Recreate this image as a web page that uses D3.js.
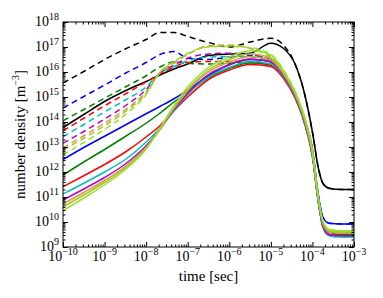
<!DOCTYPE html>
<html>
<head>
<meta charset="utf-8">
<script src="https://cdn.jsdelivr.net/npm/d3@7"></script>
<style>
  body { margin: 0; background: #fff; }
  svg { display: block; }
  .frame { fill: none; stroke: #000; stroke-width: 1; }
  .ln { fill: none; stroke-width: 1.5; }
  text { font-family: "Liberation Serif", "DejaVu Serif", serif; fill: #000; }
</style>
</head>
<body>
<script>
//time grid, as log10(seconds)
var logTime = [-10, -9.5, -9, -8.5, -8, -7.67, -7.33, -7, -6.5, -6, -5.5, -5, -4.7, -4.4, -4.2, -4, -3.85, -3.75, -3.6, -3.3, -3];

//series names and colours (one solid + one dashed curve each)
var seriesNames = ["k", "b", "g", "r", "c", "m", "tan", "olive", "lime"];
var seriesColors = ["#000000", "#0000ff", "#007f00", "#ff0000", "#00bfbf", "#bf00bf", "#c8a23c", "#b4bc2c", "#8ee628"];

//log10 of number density [m^-3]
var solidK = [13.78, 14.3, 14.82, 15.25, 15.62, 15.88, 16.12, 16.32, 16.66, 16.72, 16.75, 17.15, 16.95, 16.25, 15.2, 13.6, 12.1, 11.55, 11.35, 11.3, 11.3];
var solidB = [12.5, 12.98, 13.43, 13.88, 14.33, 14.62, 14.93, 15.28, 15.85, 16.3, 16.5, 16.42, 15.9, 15.0, 14.2, 12.9, 11.0, 10.2, 9.95, 9.92, 9.92];
var solidG = [11.88, 12.4, 12.9, 13.42, 13.95, 14.35, 14.8, 15.2, 15.78, 16.15, 16.36, 16.28, 15.8, 14.95, 14.05, 12.7, 10.8, 9.95, 9.6, 9.5, 9.5];
var solidR = [11.41, 11.85, 12.3, 12.8, 13.4, 13.85, 14.45, 15.0, 15.7, 16.08, 16.3, 16.22, 15.75, 14.9, 14.0, 12.6, 10.7, 9.85, 9.5, 9.45, 9.45];
var solidC = [11.12, 11.55, 12.0, 12.5, 13.2, 13.75, 14.45, 15.1, 15.8, 16.18, 16.42, 16.32, 15.8, 14.95, 14.05, 12.65, 10.7, 9.8, 9.45, 9.4, 9.4];
var solidM = [10.88, 11.32, 11.78, 12.32, 13.05, 13.7, 14.5, 15.15, 15.9, 16.28, 16.52, 16.4, 15.85, 15.0, 14.1, 12.7, 10.75, 9.85, 9.5, 9.45, 9.45];
var solidT = [10.72, 11.18, 11.66, 12.22, 12.98, 13.7, 14.55, 15.25, 16.0, 16.4, 16.62, 16.48, 15.92, 15.05, 14.15, 12.75, 10.8, 9.95, 9.6, 9.55, 9.55];
var solidO = [10.6, 11.08, 11.58, 12.16, 12.95, 13.72, 14.6, 15.3, 16.08, 16.5, 16.72, 16.56, 15.98, 15.1, 14.2, 12.8, 10.85, 10.0, 9.65, 9.6, 9.6];
var solidL = [10.45, 10.96, 11.48, 12.1, 12.92, 13.75, 14.65, 15.4, 16.18, 16.6, 16.85, 16.68, 16.05, 15.15, 14.25, 12.85, 10.9, 10.05, 9.7, 9.65, 9.65];

var dashK = [15.56, 16.02, 16.5, 16.92, 17.3, 17.58, 17.58, 17.42, 17.18, 17.0, 17.2, 17.35, 17.08, 16.25, 15.2, 13.6, 12.1, 11.55, 11.35, 11.3, 11.3];
var dashB = [14.56, 15.02, 15.48, 15.95, 16.38, 16.7, 16.82, 16.55, 16.5, 16.6, 16.65, 16.5, 15.95, 15.05, 14.2, 12.9, 11.0, 10.2, 9.95, 9.92, 9.92];
var dashG = [14.05, 14.5, 14.95, 15.4, 15.85, 16.2, 16.4, 16.35, 16.32, 16.35, 16.4, 16.3, 15.85, 14.95, 14.05, 12.7, 10.8, 9.95, 9.6, 9.5, 9.5];
var dashR = [13.65, 14.15, 14.65, 15.12, 15.6, 15.92, 16.2, 16.38, 16.42, 16.42, 16.42, 16.28, 15.8, 14.9, 14.0, 12.6, 10.7, 9.85, 9.5, 9.45, 9.45];
var dashC = [13.41, 13.9, 14.4, 14.88, 15.4, 15.95, 16.22, 16.45, 16.6, 16.62, 16.6, 16.38, 15.85, 14.95, 14.05, 12.65, 10.7, 9.8, 9.45, 9.4, 9.4];
var dashM = [13.15, 13.62, 14.12, 14.65, 15.3, 15.95, 16.28, 16.55, 16.72, 16.75, 16.7, 16.45, 15.9, 15.0, 14.1, 12.7, 10.75, 9.85, 9.5, 9.45, 9.45];
var dashT = [12.97, 13.45, 13.95, 14.5, 15.2, 15.97, 16.35, 16.7, 17.05, 17.08, 16.95, 16.55, 15.97, 15.05, 14.15, 12.75, 10.8, 9.95, 9.6, 9.55, 9.55];
var dashO = [12.88, 13.35, 13.85, 14.42, 15.15, 15.98, 16.38, 16.72, 17.02, 17.05, 16.95, 16.6, 16.02, 15.1, 14.2, 12.8, 10.85, 10.0, 9.65, 9.6, 9.6];
var dashL = [12.68, 13.18, 13.7, 14.3, 15.1, 16.0, 16.42, 16.75, 17.0, 17.02, 16.98, 16.7, 16.1, 15.15, 14.25, 12.85, 10.9, 10.05, 9.7, 9.65, 9.65];

var solids = [solidK, solidB, solidG, solidR, solidC, solidM, solidT, solidO, solidL];
var dashes = [dashK, dashB, dashG, dashR, dashC, dashM, dashT, dashO, dashL];

//tick exponents
var xExps = [-10, -9, -8, -7, -6, -5, -4, -3];
var yExps = [9, 10, 11, 12, 13, 14, 15, 16, 17, 18];

window.onload = setChart();

function setChart(){
    var width = 383,
        height = 298;
    var left = 63, right = 354, top = 22, bottom = 247;

    var svg = d3.select("body")
        .append("svg")
        .attr("width", width)
        .attr("height", height);

    var x = d3.scaleLog().domain([1e-10, 1e-3]).range([left, right]);
    var y = d3.scaleLog().domain([1e9, 1e18]).range([bottom, top]);

    //minor tick positions 2..9 in each decade
    function minors(exps){
        var out = [];
        for (var i = 0; i < exps.length - 1; i++){
            for (var k = 2; k < 10; k++) out.push(k * Math.pow(10, exps[i]));
        }
        return out;
    }
    var xMajor = xExps.map(function(e){ return Math.pow(10, e); });
    var yMajor = yExps.map(function(e){ return Math.pow(10, e); });

    svg.append("clipPath").attr("id", "clip")
        .append("rect").attr("x", left).attr("y", top)
        .attr("width", right - left).attr("height", bottom - top);

    //curves
    var line = d3.line()
        .x(function(d){ return x(Math.pow(10, d[0])); })
        .y(function(d){ return y(Math.pow(10, d[1])); })
        .curve(d3.curveMonotoneX);

    var plot = svg.append("g").attr("clip-path", "url(#clip)");
    seriesNames.forEach(function(name, i){
        plot.append("path")
            .attr("class", "ln solid-" + name)
            .attr("stroke", seriesColors[i])
            .attr("d", line(d3.zip(logTime, solids[i])));
        plot.append("path")
            .attr("class", "ln dash-" + name)
            .attr("stroke", seriesColors[i])
            .attr("stroke-dasharray", "6,4")
            .attr("d", line(d3.zip(logTime, dashes[i])));
    });

    //ticks on all four sides, pointing inward
    function addAxis(axis, tx, ty){
        svg.append("g")
            .attr("transform", "translate(" + tx + "," + ty + ")")
            .call(axis)
            .call(function(g){ g.select(".domain").remove(); g.selectAll("text").remove(); });
    }
    addAxis(d3.axisBottom(x).tickValues(xMajor).tickSize(-5), 0, bottom);
    addAxis(d3.axisBottom(x).tickValues(minors(xExps)).tickSize(-2.5), 0, bottom);
    addAxis(d3.axisTop(x).tickValues(xMajor).tickSize(-5), 0, top);
    addAxis(d3.axisTop(x).tickValues(minors(xExps)).tickSize(-2.5), 0, top);
    addAxis(d3.axisLeft(y).tickValues(yMajor).tickSize(-5), left, 0);
    addAxis(d3.axisLeft(y).tickValues(minors(yExps)).tickSize(-2.5), left, 0);
    addAxis(d3.axisRight(y).tickValues(yMajor).tickSize(-5), right, 0);
    addAxis(d3.axisRight(y).tickValues(minors(yExps)).tickSize(-2.5), right, 0);

    svg.append("rect").attr("class", "frame")
        .attr("x", left).attr("y", top)
        .attr("width", right - left).attr("height", bottom - top);

    //tick labels with superscript exponents
    xExps.forEach(function(e){
        var t = svg.append("text")
            .attr("x", x(Math.pow(10, e)))
            .attr("y", bottom + 14)
            .attr("text-anchor", "middle")
            .style("font-size", "14px");
        t.append("tspan").text("10");
        t.append("tspan").attr("dy", -6).style("font-size", "10px").text(String(e).replace("-", "\u2212"));
    });
    yExps.forEach(function(e){
        var t = svg.append("text")
            .attr("x", left - 4)
            .attr("y", y(Math.pow(10, e)) + 3.5)
            .attr("text-anchor", "end")
            .style("font-size", "14px");
        t.append("tspan").text("10");
        t.append("tspan").attr("dy", -6).style("font-size", "10px").text(String(e));
    });

    //axis titles
    svg.append("text")
        .attr("x", (left + right) / 2)
        .attr("y", 281)
        .attr("text-anchor", "middle")
        .style("font-size", "15px")
        .text("time [sec]");

    var yt = svg.append("text")
        .attr("transform", "translate(25," + ((top + bottom) / 2) + ") rotate(-90)")
        .attr("text-anchor", "middle")
        .style("font-size", "15px");
    yt.append("tspan").text("number density [m");
    yt.append("tspan").attr("dy", -6).style("font-size", "10px").text("\u22123");
    yt.append("tspan").attr("dy", 6).text("]");
}
</script>
</body>
</html>
